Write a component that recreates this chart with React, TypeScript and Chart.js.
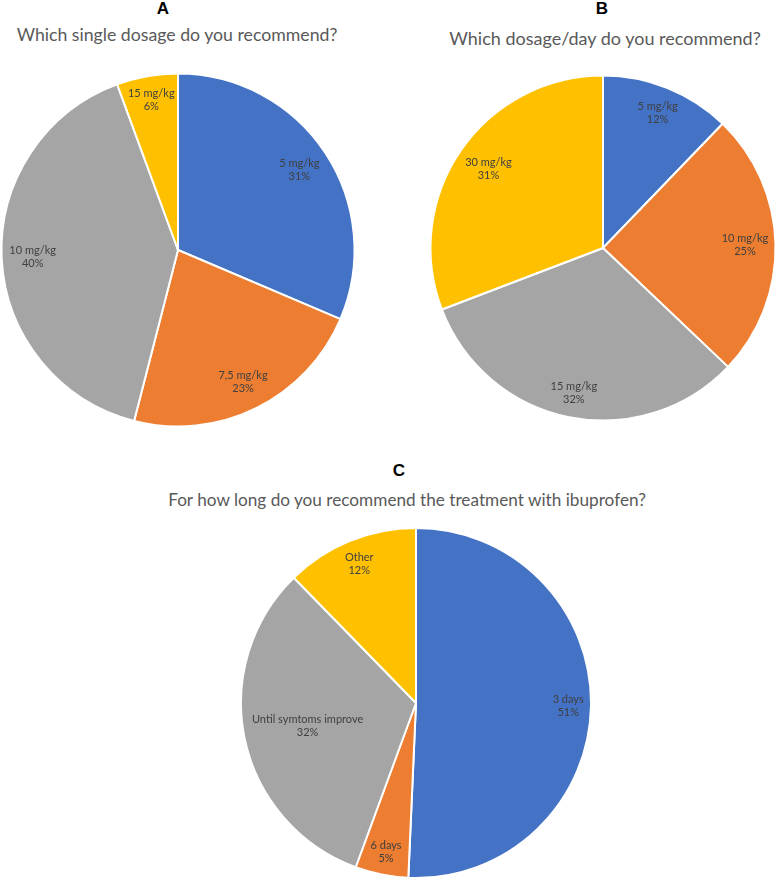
import React, { useEffect, useRef } from "react";
import { Chart, registerables } from "chart.js";

Chart.register(...registerables);

// ---- Data ----
const colors = ["#4472C4", "#ED7D31", "#A5A5A5", "#FFC000"];

const labelsA = ["5 mg/kg", "7,5 mg/kg", "10 mg/kg", "15 mg/kg"];
const valuesA = [31.4, 22.6, 40.4, 5.6];
const titleA = "Which single dosage do you recommend?";

const labelsB = ["5 mg/kg", "10 mg/kg", "15 mg/kg", "30 mg/kg"];
const valuesB = [12.2, 24.9, 32.1, 30.8];
const titleB = "Which dosage/day do you recommend?";

const labelsC = ["3 days", "6 days", "Until symtoms improve", "Other"];
const valuesC = [50.7, 4.9, 32.1, 12.3];
const titleC = "For how long do you recommend the treatment with ibuprofen?";

const LABEL_FONT = "11px Lato";
const LABEL_LINE = 13;

const sliceLabels = {
  id: "sliceLabels",
  afterDatasetsDraw(chart: any) {
    const ctx = chart.ctx;
    const meta = chart.getDatasetMeta(0);
    const data: number[] = chart.data.datasets[0].data;
    const total = data.reduce((a, b) => a + b, 0);
    ctx.save();
    ctx.font = LABEL_FONT;
    ctx.fillStyle = "#404040";
    ctx.textAlign = "center";
    ctx.textBaseline = "middle";
    meta.data.forEach((arc: any, i: number) => {
      const p = arc.getProps(["x", "y", "startAngle", "endAngle", "outerRadius"], true);
      const mid = (p.startAngle + p.endAngle) / 2;
      const lines = [String(chart.data.labels[i]), Math.round((data[i] / total) * 100) + "%"];
      const w = Math.max(...lines.map((t) => ctx.measureText(t).width));
      const h = lines.length * LABEL_LINE;
      const cx = Math.cos(mid);
      const sy = Math.sin(mid);
      const half = Math.abs(cx) * (w / 2) + Math.abs(sy) * (h / 2);
      const d = p.outerRadius * 0.96 - half;
      const px = p.x + cx * d;
      const py = p.y + sy * d;
      lines.forEach((t, j) => {
        ctx.fillText(t, px, py + (j - (lines.length - 1) / 2) * LABEL_LINE);
      });
    });
    ctx.restore();
  },
};

function PieChart(props: {
  labels: string[];
  values: number[];
  radius: number;
  left: number;
  top: number;
  size: number;
}) {
  const ref = useRef<HTMLCanvasElement>(null);
  useEffect(() => {
    if (!ref.current) return;
    const chart = new Chart(ref.current, {
      type: "pie",
      data: {
        labels: props.labels,
        datasets: [
          {
            data: props.values,
            backgroundColor: colors,
            borderColor: "#ffffff",
            borderWidth: 2,
            hoverBorderWidth: 2,
          },
        ],
      },
      options: {
        responsive: false,
        animation: false,
        radius: props.radius,
        layout: { padding: 0 },
        plugins: {
          legend: { display: false },
          tooltip: { enabled: false },
          title: { display: false },
        },
      } as any,
      plugins: [sliceLabels],
    });
    return () => chart.destroy();
  }, []);
  return (
    <canvas
      ref={ref}
      width={props.size}
      height={props.size}
      style={{
        position: "absolute",
        left: props.left,
        top: props.top,
        width: props.size,
        height: props.size,
      }}
    />
  );
}

function Letter(props: { text: string; cx: number; cy: number }) {
  return (
    <div
      style={{
        position: "absolute",
        left: props.cx - 20,
        top: props.cy - 10,
        width: 40,
        height: 20,
        lineHeight: "20px",
        textAlign: "center",
        fontFamily: "'Liberation Sans', Arial, sans-serif",
        fontWeight: "bold",
        fontSize: 17,
        color: "#000",
      }}
    >
      {props.text}
    </div>
  );
}

function Question(props: { text: string; cx: number; top: number; size: number }) {
  return (
    <div
      style={{
        position: "absolute",
        left: props.cx - 300,
        top: props.top,
        width: 600,
        height: 22,
        lineHeight: "21.6px",
        textAlign: "center",
        fontFamily: "Lato, sans-serif",
        fontSize: props.size,
        color: "#595959",
        whiteSpace: "nowrap",
      }}
    >
      {props.text}
    </div>
  );
}

export default function App() {
  return (
    <div
      style={{
        position: "absolute",
        left: 0,
        top: 0,
        width: 776,
        height: 880,
        overflow: "hidden",
        background: "#ffffff",
      }}
    >
      <Letter text="A" cx={163} cy={9} />
      <Question text={titleA} cx={177} top={23.5} size={17.7} />
      <Letter text="B" cx={602} cy={9} />
      <Question text={titleB} cx={605} top={28} size={18} />
      <Letter text="C" cx={399} cy={471} />
      <Question text={titleC} cx={407} top={489} size={17.2} />
      <PieChart labels={labelsA} values={valuesA} radius={176.5} left={-4} top={68} size={364} />
      <PieChart labels={labelsB} values={valuesB} radius={172.5} left={425} top={70} size={356} />
      <PieChart labels={labelsC} values={valuesC} radius={175} left={236} top={523} size={360} />
    </div>
  );
}
